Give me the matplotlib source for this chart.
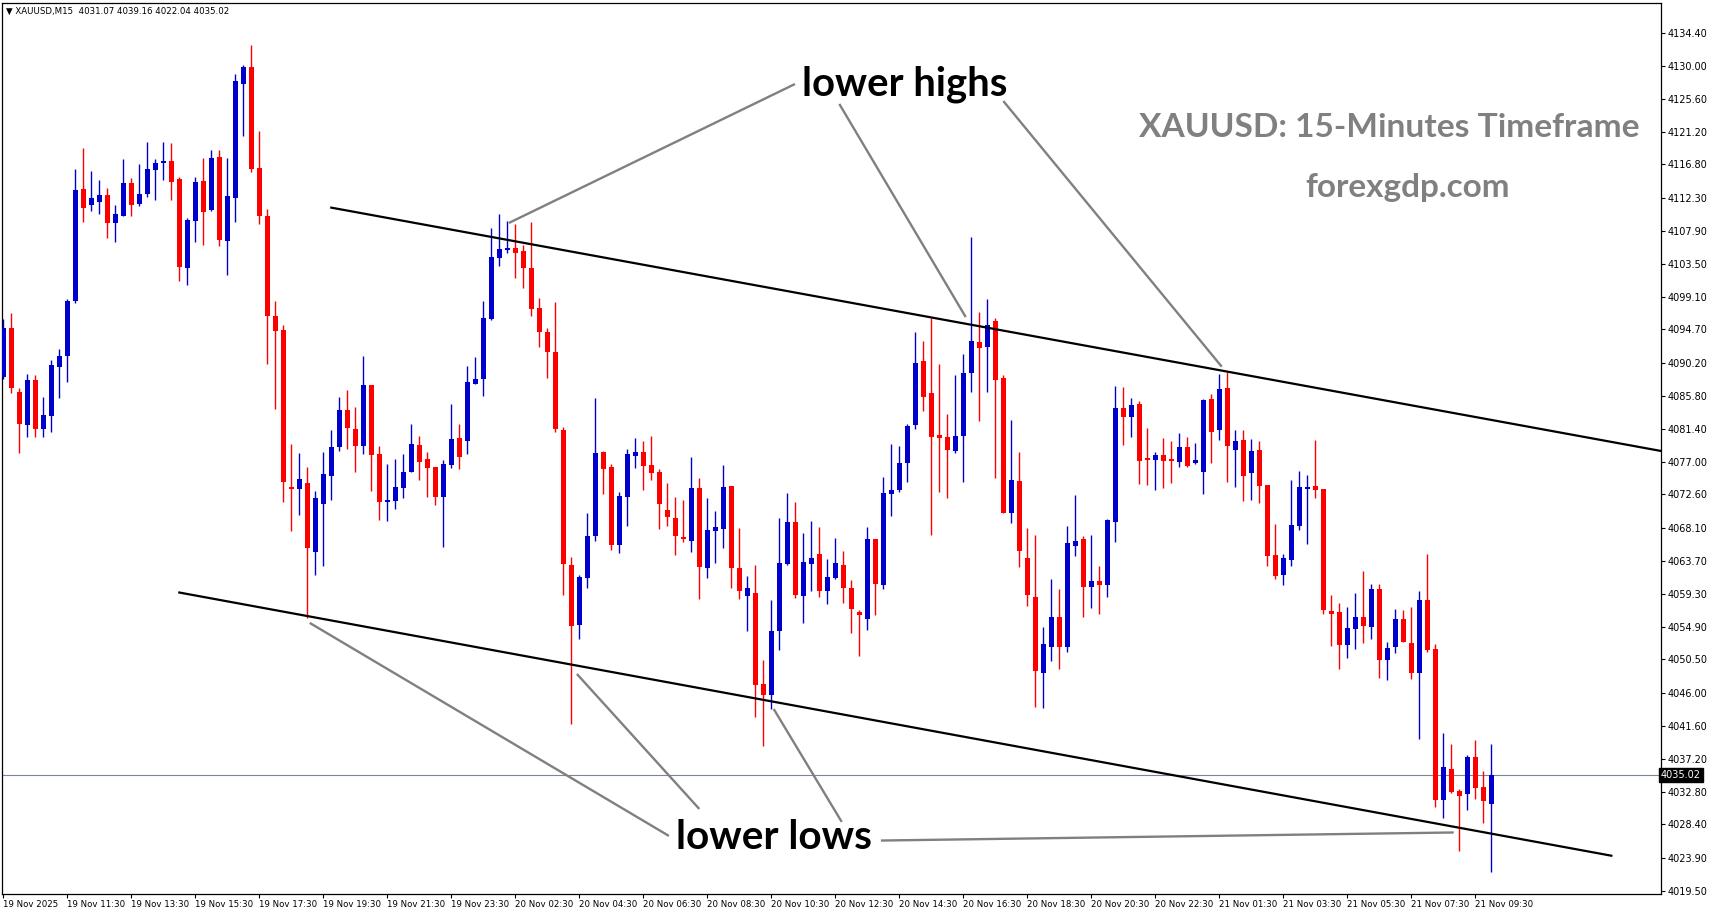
import matplotlib
matplotlib.use("agg")
import matplotlib.pyplot as plt

# OHLC of the M15 candles, oldest first
opens = [
    4088.37, 4094.94, 4086.37, 4081.95, 4087.93, 4081.42, 4083.16, 4089.72, 4091.20, 4098.51,
    4113.51, 4111.41, 4111.82, 4112.71, 4109.01, 4109.94, 4114.31, 4111.55, 4112.89, 4116.09,
    4117.04, 4117.26, 4114.85, 4102.98, 4109.26, 4114.58, 4110.70, 4117.80, 4106.59, 4112.35,
    4127.62, 4129.85, 4116.32, 4109.94, 4096.55, 4094.62, 4073.59, 4073.38, 4074.13, 4064.93,
    4071.37, 4075.11, 4079.00, 4083.91, 4081.37, 4079.13, 4087.26, 4078.02, 4071.63, 4071.76,
    4073.51, 4075.65, 4079.22, 4077.35, 4076.32, 4072.30, 4076.54, 4080.16, 4079.80, 4087.43,
    4088.11, 4096.10, 4104.30, 4105.38, 4105.60, 4105.20, 4102.97, 4097.57, 4094.35, 4091.67,
    4081.22, 4063.10, 4055.16, 4061.44, 4066.97, 4078.27, 4076.29, 4065.86, 4072.32, 4077.76,
    4078.27, 4076.56, 4075.59, 4070.53, 4069.46, 4066.83, 4066.42, 4073.48, 4062.68, 4067.75,
    4068.03, 4073.75, 4062.77, 4059.04, 4059.41, 4047.23, 4045.80, 4054.24, 4063.28, 4068.91,
    4059.04, 4063.33, 4064.61, 4059.60, 4061.35, 4063.19, 4060.05, 4056.91, 4055.96, 4066.63,
    4060.52, 4072.70, 4073.24, 4076.85, 4081.94, 4090.47, 4086.19, 4080.56, 4080.29, 4078.47,
    4080.46, 4088.86, 4093.02, 4092.38, 4095.87, 4088.20, 4070.16, 4074.40, 4064.09, 4058.86,
    4048.73, 4052.21, 4056.18, 4052.21, 4065.69, 4066.63, 4060.25, 4061.00, 4060.52, 4068.95,
    4084.18, 4083.02, 4084.71, 4077.48, 4077.26, 4077.88, 4077.35, 4076.99, 4078.95, 4076.86,
    4075.65, 4085.39, 4081.28, 4086.86, 4078.59, 4079.89, 4075.51, 4078.55, 4073.86, 4064.49,
    4061.85, 4063.86, 4068.42, 4073.38, 4073.73, 4073.33, 4056.99, 4056.85, 4052.49, 4054.63,
    4056.19, 4054.89, 4059.94, 4050.48, 4052.21, 4055.92, 4052.71, 4048.74, 4058.47, 4051.89,
    4031.72, 4035.83, 4032.88, 4032.52, 4037.43, 4033.42, 4031.07,
]
highs = [
    4096.06, 4096.86, 4086.82, 4088.73, 4088.60, 4085.70, 4090.61, 4092.09, 4098.73, 4116.18,
    4119.05, 4115.97, 4114.72, 4113.65, 4111.41, 4117.57, 4114.99, 4116.86, 4119.81, 4117.57,
    4119.81, 4119.72, 4115.16, 4109.58, 4115.16, 4117.71, 4118.78, 4118.78, 4117.71, 4128.92,
    4130.16, 4132.85, 4121.32, 4110.88, 4098.55, 4095.30, 4079.31, 4078.10, 4076.28, 4073.06,
    4078.24, 4081.23, 4085.65, 4086.58, 4084.31, 4091.14, 4087.26, 4079.09, 4076.67, 4077.35,
    4078.02, 4082.03, 4080.43, 4078.28, 4076.32, 4077.21, 4084.71, 4082.03, 4089.80, 4091.05,
    4098.50, 4108.28, 4110.20, 4109.21, 4108.82, 4106.01, 4109.09, 4098.91, 4094.89, 4098.37,
    4081.68, 4064.16, 4061.76, 4070.11, 4085.51, 4078.46, 4076.61, 4072.92, 4078.68, 4080.21,
    4079.74, 4080.44, 4076.01, 4074.12, 4072.28, 4071.86, 4077.62, 4074.81, 4072.14, 4070.39,
    4076.56, 4073.75, 4068.12, 4061.66, 4063.14, 4050.46, 4058.49, 4069.46, 4072.78, 4071.58,
    4067.44, 4069.05, 4068.26, 4063.97, 4066.78, 4065.03, 4061.16, 4057.15, 4068.24, 4066.63,
    4074.93, 4079.36, 4079.09, 4082.03, 4094.35, 4093.15, 4096.19, 4090.07, 4083.38, 4088.59,
    4091.40, 4107.08, 4097.03, 4098.77, 4096.19, 4088.59, 4082.56, 4078.29, 4068.10, 4067.17,
    4054.89, 4061.27, 4059.93, 4068.37, 4072.53, 4067.03, 4067.17, 4063.06, 4069.31, 4087.17,
    4086.99, 4085.51, 4085.11, 4081.49, 4078.24, 4080.16, 4079.76, 4080.78, 4080.30, 4079.49,
    4085.34, 4086.05, 4088.73, 4089.00, 4081.24, 4081.24, 4080.03, 4079.76, 4073.86, 4068.64,
    4064.62, 4074.53, 4075.74, 4075.21, 4079.89, 4073.33, 4059.13, 4058.06, 4057.53, 4059.41,
    4062.35, 4060.61, 4060.61, 4052.84, 4057.26, 4057.13, 4057.53, 4059.66, 4064.62, 4052.57,
    4040.70, 4039.22, 4033.15, 4037.70, 4039.71, 4035.56, 4039.16,
]
lows = [
    4088.02, 4086.15, 4078.11, 4080.35, 4080.35, 4080.35, 4081.01, 4085.56, 4087.71, 4098.28,
    4109.14, 4110.61, 4110.20, 4107.00, 4106.46, 4109.94, 4109.94, 4111.28, 4112.48, 4112.09,
    4114.76, 4112.09, 4101.24, 4100.70, 4106.46, 4106.06, 4110.61, 4105.92, 4102.04, 4109.14,
    4120.65, 4115.84, 4108.87, 4090.03, 4084.09, 4071.62, 4067.74, 4069.89, 4056.05, 4061.85,
    4063.06, 4071.90, 4078.47, 4078.73, 4075.65, 4078.06, 4073.10, 4069.22, 4069.09, 4070.69,
    4072.17, 4075.65, 4074.57, 4072.30, 4071.23, 4065.60, 4076.19, 4076.05, 4078.06, 4087.43,
    4085.83, 4095.96, 4103.23, 4104.98, 4101.63, 4100.29, 4096.54, 4092.38, 4088.24, 4081.01,
    4059.18, 4041.80, 4053.27, 4060.10, 4066.42, 4072.69, 4065.22, 4064.71, 4068.31, 4076.10,
    4073.24, 4074.53, 4068.03, 4068.31, 4064.53, 4066.28, 4064.94, 4058.63, 4061.44, 4063.47,
    4065.36, 4060.10, 4058.63, 4054.24, 4042.76, 4038.88, 4043.82, 4051.71, 4063.19, 4058.76,
    4055.44, 4059.73, 4058.90, 4057.98, 4061.21, 4058.12, 4054.10, 4051.01, 4054.49, 4056.45,
    4059.98, 4069.75, 4072.97, 4074.31, 4081.41, 4083.82, 4067.21, 4072.97, 4072.17, 4078.20,
    4074.31, 4086.37, 4082.47, 4086.37, 4074.84, 4070.16, 4068.82, 4062.92, 4057.70, 4044.13,
    4043.99, 4050.34, 4049.26, 4051.54, 4064.40, 4056.23, 4057.44, 4056.63, 4058.90, 4066.28,
    4079.27, 4080.34, 4074.04, 4073.91, 4073.20, 4073.51, 4074.18, 4076.33, 4076.23, 4076.63,
    4072.66, 4076.86, 4079.94, 4074.32, 4073.59, 4071.77, 4071.90, 4071.51, 4063.06, 4061.32,
    4060.52, 4063.06, 4067.88, 4066.01, 4072.17, 4056.64, 4052.35, 4049.27, 4050.75, 4051.94,
    4052.75, 4053.29, 4048.06, 4047.79, 4051.41, 4052.88, 4047.93, 4039.89, 4051.55, 4030.79,
    4029.31, 4032.66, 4024.89, 4030.38, 4031.86, 4028.64, 4022.04,
]
closes = [
    4094.94, 4086.91, 4082.09, 4087.93, 4081.42, 4083.25, 4089.94, 4091.15, 4098.51, 4113.38,
    4111.01, 4112.30, 4112.71, 4108.92, 4110.16, 4114.31, 4111.41, 4112.84, 4116.18, 4117.00,
    4117.26, 4114.49, 4103.11, 4109.35, 4114.45, 4110.47, 4117.66, 4106.73, 4112.57, 4127.97,
    4129.85, 4116.23, 4109.94, 4096.55, 4094.53, 4074.31, 4073.38, 4074.66, 4065.48, 4072.12,
    4075.34, 4078.95, 4083.91, 4081.54, 4079.13, 4087.26, 4077.92, 4071.63, 4071.85, 4073.59,
    4075.60, 4079.36, 4076.99, 4076.19, 4072.30, 4076.67, 4080.02, 4077.65, 4087.66, 4088.06,
    4096.23, 4104.39, 4105.47, 4105.60, 4104.98, 4102.97, 4097.43, 4094.39, 4091.72, 4081.41,
    4063.33, 4055.02, 4061.53, 4067.02, 4078.13, 4076.06, 4065.86, 4072.42, 4078.04, 4078.27,
    4076.34, 4075.50, 4071.31, 4069.51, 4067.06, 4066.69, 4073.48, 4062.91, 4067.84, 4068.26,
    4073.61, 4062.68, 4059.73, 4060.05, 4047.14, 4045.80, 4054.34, 4063.42, 4068.91, 4059.18,
    4063.56, 4064.11, 4059.60, 4061.53, 4063.42, 4060.01, 4057.19, 4056.41, 4066.63, 4060.65,
    4072.79, 4073.19, 4076.81, 4081.76, 4090.20, 4085.69, 4080.34, 4080.20, 4078.59, 4080.43,
    4088.86, 4093.15, 4092.26, 4095.30, 4087.97, 4070.16, 4074.53, 4065.07, 4059.17, 4048.99,
    4052.57, 4056.18, 4052.21, 4066.09, 4066.37, 4060.25, 4061.00, 4060.52, 4069.18, 4084.18,
    4083.02, 4084.57, 4077.12, 4077.26, 4077.88, 4077.13, 4077.04, 4078.95, 4076.46, 4077.22,
    4085.25, 4081.01, 4086.72, 4079.14, 4079.76, 4075.12, 4078.42, 4073.77, 4064.36, 4061.72,
    4064.09, 4068.51, 4073.59, 4073.59, 4073.24, 4057.17, 4056.64, 4052.49, 4054.71, 4056.19,
    4055.03, 4059.94, 4050.48, 4052.03, 4055.92, 4052.88, 4048.74, 4058.47, 4051.76, 4031.72,
    4036.09, 4032.79, 4032.25, 4037.43, 4033.33, 4031.59, 4035.02,
]

time_labels = [
    "19 Nov 2025", "19 Nov 11:30", "19 Nov 13:30", "19 Nov 15:30", "19 Nov 17:30",
    "19 Nov 19:30", "19 Nov 21:30", "19 Nov 23:30", "20 Nov 02:30", "20 Nov 04:30",
    "20 Nov 06:30", "20 Nov 08:30", "20 Nov 10:30", "20 Nov 12:30", "20 Nov 14:30",
    "20 Nov 16:30", "20 Nov 18:30", "20 Nov 20:30", "20 Nov 22:30", "21 Nov 01:30",
    "21 Nov 03:30", "21 Nov 05:30", "21 Nov 07:30", "21 Nov 09:30",
]
price_ticks = [
    4134.40, 4130.00, 4125.60, 4121.20, 4116.80, 4112.30, 4107.90, 4103.50, 4099.10,
    4094.70, 4090.20, 4085.80, 4081.40, 4077.00, 4072.60, 4068.10, 4063.70, 4059.30,
    4054.90, 4050.50, 4046.00, 4041.60, 4037.20, 4032.80, 4028.40, 4023.90, 4019.50,
]
last_price = 4035.02
header = "\u25bc XAUUSD,M15  4031.07 4039.16 4022.04 4035.02"

# trend lines (bar index, price)
upper_channel = [(41.0, 4111.01), (207.2, 4078.42)]
lower_channel = [(22.0, 4059.46), (201.0, 4024.21)]
high_pointers = [
    [(98.96, 4127.57), (63.2, 4108.96)],
    [(104.5, 4124.90), (120.3, 4096.36)],
    [(125.0, 4125.29), (152.3, 4089.71)],
]
low_pointers = [
    [(83.2, 4026.86), (38.3, 4055.39)],
    [(87.0, 4030.47), (71.7, 4048.55)],
    [(104.8, 4028.74), (96.3, 4043.86)],
    [(109.7, 4026.24), (181.3, 4027.32)],
]

W, H = 1714, 915
fig = plt.figure(figsize=(W / 100, H / 100), dpi=100)
ax = fig.add_axes([2 / W, 21 / H, 1659 / W, 891 / H])

bull, bear = "#0000CC", "#FF0000"
n = len(opens)
x = list(range(n))
cols = [bull if c >= o else bear for o, c in zip(opens, closes)]
ax.vlines(x, lows, highs, colors=cols, linewidth=1.0, zorder=2)
ax.bar(x, [max(abs(c - o), 0.15) for o, c in zip(opens, closes)],
       bottom=[min(o, c) for o, c in zip(opens, closes)],
       width=0.62, color=cols, linewidth=0, zorder=3)

ax.axhline(last_price, color="#7a8696", linewidth=0.8, zorder=1)

for seg in (upper_channel, lower_channel):
    ax.plot([p[0] for p in seg], [p[1] for p in seg], color="black", lw=1.6, zorder=4)
for seg in high_pointers + low_pointers:
    ax.plot([p[0] for p in seg], [p[1] for p in seg], color="#808080", lw=1.7,
            solid_capstyle="butt", zorder=4)

ax.set_xlim(-0.1625, 207.21)
ax.set_ylim(4019.08, 4138.42)

ax.set_xticks(range(0, 8 * len(time_labels), 8))
ax.set_xticklabels(time_labels, ha="left", fontsize=6.2)
ax.yaxis.tick_right()
ax.set_yticks(price_ticks)
ax.set_yticklabels([f"{v:.2f}" for v in price_ticks], fontsize=7)
ax.tick_params(axis="both", direction="out", length=3, width=0.8, pad=1.5, color="black")
for s in ax.spines.values():
    s.set_linewidth(0.9)

ax.text(1.0, last_price, "4035.02", transform=ax.get_yaxis_transform(), ha="left",
        va="center", color="white", fontsize=7, clip_on=False, zorder=6,
        bbox=dict(boxstyle="square,pad=0.2", fc="black", ec="black"))

fig.text(6 / W, 1 - 11 / H, header, fontsize=6.2, va="center", ha="left")

# big labels, sized to the width they take in the original
renderer = fig.canvas.get_renderer()


def fit_text(xc, yb, s, width_px, color):
    t = ax.text(xc, yb, s, ha="center", va="baseline", fontsize=20, color=color,
                fontfamily="Lato", fontweight="bold", zorder=7)
    w = t.get_window_extent(renderer).width
    t.set_fontsize(20 * width_px / w)
    return t


fit_text(112.65, 4125.97, "lower highs", 205, "black")
fit_text(96.3, 4025.11, "lower lows", 196, "black")
fit_text(173.3, 4120.53, "XAUUSD: 15-Minutes Timeframe", 500, "#808080")
fit_text(175.6, 4112.46, "forexgdp.com", 205, "#808080")

fig.savefig("out.png", dpi=100)
